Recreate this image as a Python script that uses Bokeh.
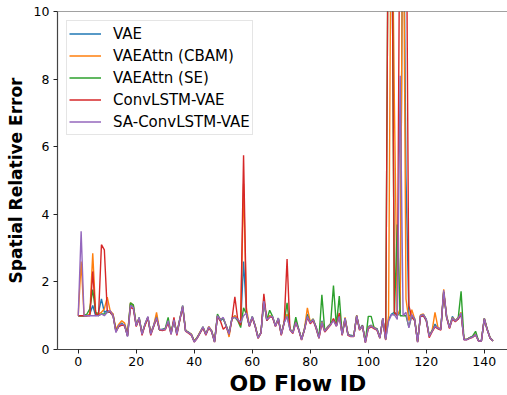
from bokeh.plotting import figure
from bokeh.models import FixedTicker, Span, Legend, LegendItem, Title, Range1d
from bokeh.embed import file_html
from bokeh.resources import INLINE

flow_ids = list(range(144))

series_names = ["VAE", "VAEAttn (CBAM)", "VAEAttn (SE)", "ConvLSTM-VAE", "SA-ConvLSTM-VAE"]
series_colors = ["#1f77b4", "#ff7f0e", "#2ca02c", "#d62728", "#9467bd"]

vae = [
    1.0, 1.0, 1.0, 1.0, 1.05, 1.3, 1.0, 1.1, 1.5, 1.1,
    1.15, 1.1, 1.05, 0.55, 0.7, 0.78, 0.7, 0.4, 1.35, 1.25,
    0.72, 0.9, 0.48, 0.72, 0.95, 0.48, 0.72, 1.0, 0.58, 0.6,
    0.62, 0.8, 0.5, 0.85, 0.48, 0.9, 1.25, 0.55, 0.52, 0.45,
    0.25, 0.35, 0.5, 0.65, 0.45, 0.65, 0.55, 0.25, 0.98, 0.85,
    0.92, 0.7, 0.5, 0.9, 1.0, 0.9, 0.75, 2.6, 1.1, 0.7,
    0.95, 0.7, 0.38, 0.5, 1.5, 0.85, 1.0, 0.95, 0.7, 0.9,
    0.48, 0.8, 1.0, 0.6, 0.5, 0.85, 0.6, 0.32, 0.6, 1.05,
    0.8, 0.85, 0.68, 0.38, 0.85, 0.55, 0.68, 0.75, 0.9, 0.7,
    1.0, 0.45, 0.9, 0.45, 0.42, 0.4, 0.98, 0.6, 0.72, 0.25,
    0.68, 0.72, 0.62, 0.62, 0.36, 0.9, 0.32, 0.88, 1.05, 1.1,
    1.0, 1.1, 15.0, 5.1, 1.0, 1.0, 0.85, 0.25, 0.98, 1.0,
    0.85, 0.42, 0.55, 0.75, 0.62, 0.62, 1.7, 0.95, 0.66, 0.98,
    0.85, 0.9, 1.05, 0.3, 0.3, 0.35, 0.38, 0.45, 0.26, 0.26,
    0.9, 0.6, 0.35, 0.26,
]

vae_cbam = [
    1.0, 2.6, 1.0, 1.0, 1.05, 2.85, 1.1, 1.05, 1.1, 1.2,
    1.55, 1.15, 1.05, 0.6, 0.75, 0.85, 0.78, 0.45, 1.38, 1.3,
    0.75, 0.92, 0.5, 0.7, 0.95, 0.5, 0.7, 1.1, 0.6, 0.58,
    0.62, 0.82, 0.5, 0.85, 0.5, 0.88, 1.28, 0.58, 0.5, 0.46,
    0.25, 0.36, 0.52, 0.66, 0.46, 0.68, 0.56, 0.24, 1.0, 0.9,
    0.92, 0.72, 0.37, 0.92, 1.0, 0.9, 0.78, 4.9, 1.2, 0.72,
    0.95, 0.72, 0.36, 0.5, 1.45, 0.9, 1.0, 0.95, 0.72, 0.9,
    0.46, 0.82, 1.05, 0.6, 0.52, 0.82, 0.6, 0.3, 0.62, 1.23,
    0.82, 0.9, 0.66, 0.36, 0.82, 0.56, 0.66, 0.76, 0.88, 0.7,
    1.0, 0.46, 0.95, 0.46, 0.4, 0.4, 1.02, 0.6, 0.7, 0.24,
    0.66, 0.7, 0.66, 0.6, 0.36, 0.92, 0.3, 1.0, 15.0, 7.3,
    1.0, 1.2, 15.0, 1.5, 0.85, 1.18, 0.9, 0.24, 1.02, 1.05,
    0.88, 0.4, 0.56, 1.1, 0.66, 0.6, 1.78, 1.0, 0.66, 0.95,
    0.86, 0.95, 1.1, 0.3, 0.3, 0.35, 0.38, 0.46, 0.26, 0.26,
    0.93, 0.6, 0.35, 0.26,
]

vae_se = [
    1.0, 1.0, 1.0, 1.05, 1.2, 1.77, 1.1, 1.0, 1.05, 1.05,
    1.1, 1.1, 1.0, 0.55, 0.7, 0.75, 0.72, 0.42, 1.38, 1.32,
    0.7, 0.95, 0.46, 0.75, 0.95, 0.46, 0.68, 0.95, 0.58, 0.58,
    0.62, 0.95, 0.46, 0.88, 0.46, 0.88, 1.3, 0.56, 0.5, 0.44,
    0.24, 0.35, 0.5, 0.67, 0.45, 0.66, 0.54, 0.23, 1.05, 0.88,
    0.92, 0.7, 0.46, 0.93, 0.95, 0.85, 0.65, 1.23, 1.05, 0.7,
    0.98, 0.7, 0.34, 0.5, 1.45, 0.88, 1.16, 0.98, 0.7, 0.93,
    0.44, 0.8, 1.38, 0.6, 0.49, 0.96, 0.6, 0.3, 0.6, 1.0,
    0.8, 0.9, 0.65, 0.34, 1.62, 0.55, 0.64, 0.76, 1.89, 0.7,
    1.58, 0.44, 0.93, 0.44, 0.4, 0.4, 1.0, 0.6, 0.7, 0.22,
    0.98, 0.98, 0.64, 0.6, 0.34, 0.93, 0.3, 15.0, 15.0, 1.0,
    3.7, 1.0, 1.0, 1.0, 0.66, 1.0, 0.9, 0.23, 1.0, 1.03,
    0.9, 0.4, 0.55, 0.7, 0.62, 0.6, 1.7, 0.98, 0.65, 0.93,
    0.84, 0.93, 1.72, 0.3, 0.3, 0.35, 0.4, 0.54, 0.26, 0.26,
    0.92, 0.6, 0.34, 0.25,
]

convlstm_vae = [
    1.0, 1.0, 1.0, 1.0, 1.0, 2.31, 1.05, 1.0, 3.1, 2.95,
    1.15, 1.1, 1.0, 0.52, 0.68, 0.72, 0.7, 0.4, 1.25, 1.2,
    0.68, 0.92, 0.42, 0.72, 0.95, 0.42, 0.68, 0.92, 0.58, 0.56,
    0.58, 0.8, 0.45, 0.95, 0.42, 0.86, 1.25, 0.54, 0.48, 0.42,
    0.22, 0.33, 0.48, 0.64, 0.42, 0.64, 0.52, 0.22, 0.98, 0.85,
    0.6, 0.68, 0.45, 0.9, 1.56, 0.88, 0.72, 5.75, 1.05, 0.68,
    0.95, 0.68, 0.33, 0.48, 1.65, 0.86, 0.95, 0.95, 0.68, 0.9,
    0.42, 0.78, 2.68, 0.58, 0.47, 0.8, 0.58, 0.28, 0.58, 0.95,
    0.76, 0.86, 0.62, 0.33, 0.78, 0.52, 0.62, 0.72, 0.92, 0.69,
    1.08, 0.42, 0.9, 0.42, 0.38, 0.38, 0.98, 0.57, 0.7, 0.2,
    0.62, 0.67, 0.62, 0.57, 0.33, 0.9, 0.28, 15.0, 15.0, 1.1,
    1.0, 15.0, 15.0, 15.0, 1.3, 0.95, 0.86, 0.22, 0.98, 1.0,
    0.86, 0.35, 0.52, 0.67, 0.62, 0.57, 1.7, 0.95, 0.62, 0.9,
    0.82, 0.9, 1.05, 0.29, 0.29, 0.33, 0.36, 0.43, 0.25, 0.25,
    0.9, 0.58, 0.33, 0.25,
]

sa_convlstm_vae = [
    1.0, 3.5, 1.0, 1.0, 1.0, 1.0, 1.0, 1.0, 1.05, 1.0,
    1.1, 1.15, 1.0, 0.5, 0.72, 0.75, 0.72, 0.38, 1.3, 1.25,
    0.7, 0.95, 0.45, 0.75, 0.98, 0.45, 0.7, 0.95, 0.6, 0.58,
    0.6, 0.85, 0.45, 0.88, 0.45, 0.88, 1.3, 0.55, 0.5, 0.44,
    0.22, 0.34, 0.5, 0.67, 0.44, 0.67, 0.54, 0.22, 1.0, 0.88,
    0.95, 0.69, 0.45, 0.93, 0.95, 0.89, 0.8, 1.0, 1.08, 0.69,
    0.98, 0.69, 0.34, 0.49, 1.43, 0.89, 0.95, 0.98, 0.69, 0.93,
    0.44, 0.79, 0.98, 0.59, 0.49, 0.8, 0.59, 0.29, 0.59, 0.98,
    0.79, 0.89, 0.64, 0.34, 0.8, 0.54, 0.64, 0.74, 0.85, 0.69,
    0.98, 0.44, 0.93, 0.44, 0.39, 0.39, 1.0, 0.59, 0.69, 0.2,
    0.64, 0.69, 0.64, 0.59, 0.34, 0.93, 0.29, 0.84, 1.03, 1.03,
    0.89, 8.1, 1.0, 1.1, 0.64, 1.03, 0.89, 0.22, 1.0, 1.03,
    0.89, 0.39, 0.54, 0.69, 0.64, 0.59, 1.75, 0.98, 0.64, 0.93,
    0.84, 0.93, 1.08, 0.29, 0.29, 0.34, 0.37, 0.44, 0.25, 0.25,
    0.92, 0.59, 0.34, 0.25,
]

x_ticks = [0, 20, 40, 60, 80, 100, 120, 140]
y_ticks = [0, 2, 4, 6, 8, 10]

FONT = "DejaVu Sans"

p = figure(width=507, height=395, output_backend="svg", toolbar_location=None,
           x_range=Range1d(-7.15, 148.0), y_range=Range1d(0, 10),
           min_border_left=57, min_border_right=0, min_border_top=11, min_border_bottom=45)
p.outline_line_color = None
p.grid.visible = False
p.background_fill_color = "white"
p.border_fill_color = "white"

for ax in (p.xaxis[0], p.yaxis[0]):
    ax.axis_line_color = "#444444"
    ax.axis_line_width = 1.2
    ax.major_tick_line_color = "#222222"
    ax.major_tick_line_width = 1
    ax.major_tick_out = 4
    ax.major_tick_in = 0
    ax.minor_tick_line_color = None
    ax.major_label_text_font = FONT
    ax.major_label_text_font_size = "12.5px"
    ax.major_label_text_color = "black"
    ax.major_label_standoff = 4

p.xaxis.major_label_standoff = 3

p.xaxis.ticker = FixedTicker(ticks=x_ticks)
p.yaxis.ticker = FixedTicker(ticks=y_ticks)

p.yaxis.axis_label = "Spatial Relative Error"
p.yaxis.axis_label_text_font = FONT
p.yaxis.axis_label_text_font_style = "bold"
p.yaxis.axis_label_text_font_size = "17px"
p.yaxis.axis_label_text_color = "black"
p.yaxis.axis_label_standoff = 5

p.add_layout(Title(text="OD Flow ID", align="left", offset=172, standoff=0,
                   text_line_height=0.7,
                   text_font=FONT, text_font_style="bold", text_font_size="22px",
                   text_color="black"), "below")

p.add_layout(Span(location=10, dimension="width", line_color="#444444", line_width=1.2))

all_series = [vae, vae_cbam, vae_se, convlstm_vae, sa_convlstm_vae]
items = []
for name, color, ys in zip(series_names, series_colors, all_series):
    r = p.line(flow_ids, ys, line_color=color, line_width=1.4)
    items.append(LegendItem(label=name, renderers=[r]))

legend = Legend(items=items, location="top_left", margin=9, padding=2, spacing=1,
                glyph_width=32, glyph_height=21, label_height=21, label_standoff=12,
                label_text_font=FONT, label_text_font_size="15px", label_text_color="black",
                border_line_color="#cccccc", border_line_width=1,
                background_fill_color="white", background_fill_alpha=0.8)
p.add_layout(legend)

open("out.html", "w").write(file_html(p, INLINE))
